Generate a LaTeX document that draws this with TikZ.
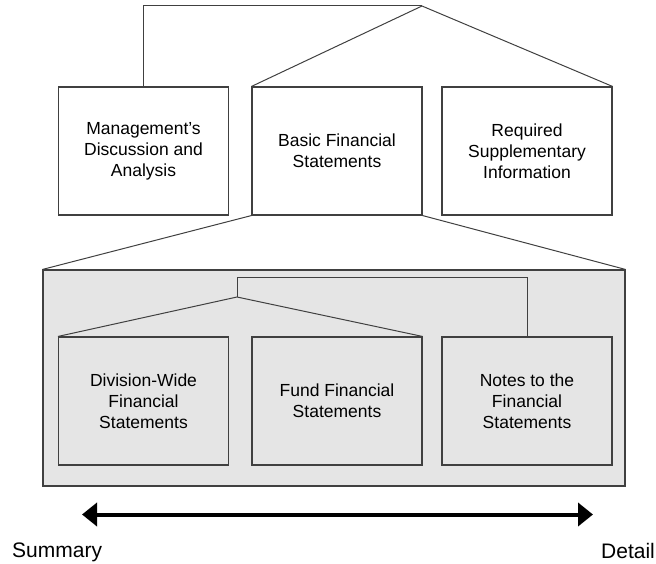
\documentclass[tikz,border=0pt]{standalone}
\usepackage{fontspec}
\setmainfont{Liberation Sans}
\usetikzlibrary{arrows.meta}
\definecolor{linec}{HTML}{404040}
\definecolor{panel}{HTML}{E5E5E5}
\tikzset{
  box/.style={draw=linec, line width=1.1pt, minimum width=170pt, minimum height=128pt,
    inner sep=0pt, align=center, font=\fontsize{17.5}{21}\selectfont},
  conn/.style={draw=linec, line width=1pt},
  lbl/.style={anchor=base west, inner sep=0pt, font=\fontsize{21}{25}\selectfont}
}
\begin{document}
\begin{tikzpicture}[x=1pt,y=-1pt]
\useasboundingbox (0,0) rectangle (656,564);
% big panel
\node[draw=linec, line width=1.1pt, fill=panel, minimum width=582pt, minimum height=216pt, inner sep=0pt] (big) at (334,378) {};
% top boxes
\node[box, fill=white] (b1) at (143.5,151) {Management's\\Discussion and\\Analysis};
\node[box, fill=white] (b2) at (337,151) {Basic Financial\\Statements};
\node[box, fill=white] (b3) at (527,151) {Required\\Supplementary\\Information};
% lower boxes
\node[box, fill=panel] (c1) at (143.5,401) {Division-Wide\\Financial\\Statements};
\node[box, fill=panel] (c2) at (337,401) {Fund Financial\\Statements};
\node[box, fill=panel] (c3) at (527,401) {Notes to the\\Financial\\Statements};
% top connectors
\coordinate (peak) at (422,6);
\draw[conn] (b1.north) |- (peak);
\draw[conn] (b2.north west) -- (peak) -- (b3.north east);
\draw[conn] (b2.south west) -- (big.north west);
\draw[conn] (b2.south east) -- (big.north east);
% inner connectors
\coordinate (ipeak) at (237,297);
\coordinate (itop) at (237,277);
\draw[conn] (ipeak) -- (itop) -| (c3.north);
\draw[conn] (c1.north west) -- (ipeak) -- (c2.north east);
% arrow
\coordinate (arrL) at (82,514.5);
\coordinate (arrR) at (593,514.5);
\draw[line width=4pt, {Triangle[length=15pt,width=23pt]}-{Triangle[length=15pt,width=23pt]}] (arrL) -- (arrR);
\node[lbl] (sum) at (12,557) {Summary};
\node[lbl] (det) at (601,558) {Detail};
\end{tikzpicture}
\end{document}
